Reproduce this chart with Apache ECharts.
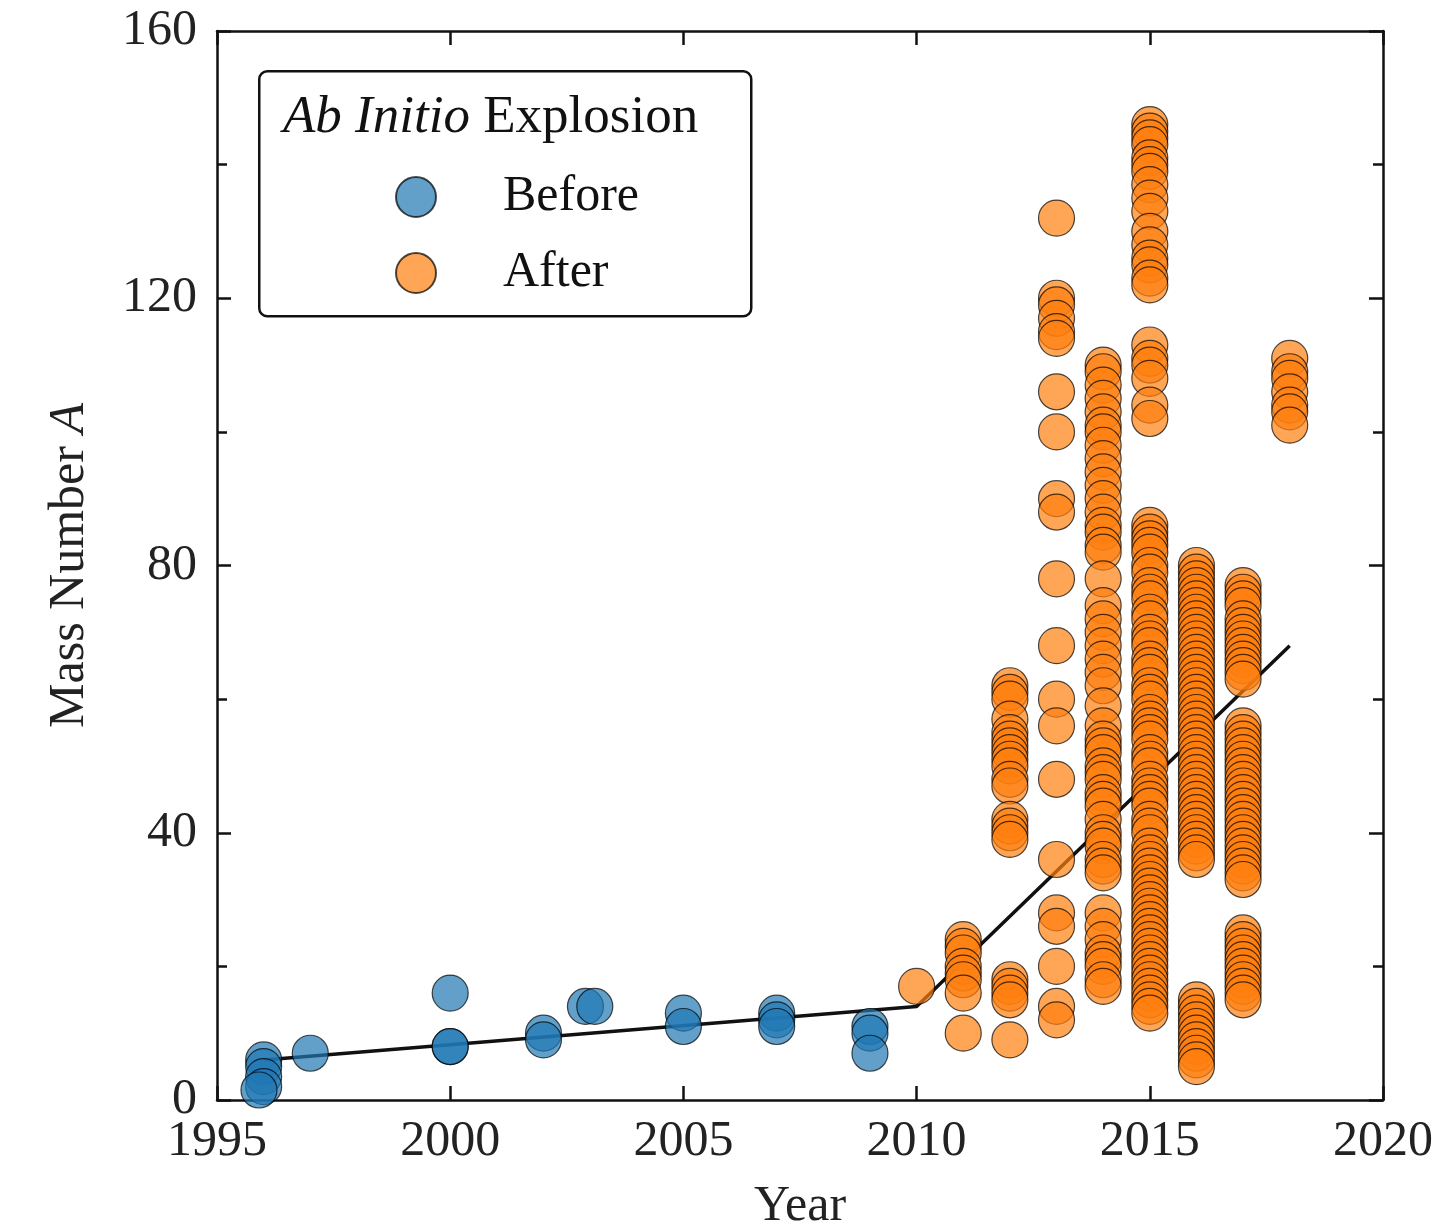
<!DOCTYPE html>
<html>
<head>
<meta charset="utf-8">
<script src="https://cdn.jsdelivr.net/npm/echarts@6/dist/echarts.min.js"></script>
<style>
html,body{margin:0;padding:0;background:#fff;}
#chart{width:1445px;height:1231px;}
</style>
</head>
<body>
<div id="chart"></div>
<script>
// ---- Data ----
const beforeYears = [1996, 1996, 1996, 1996, 1995.9, 1997, 2000, 2000, 2000, 2002, 2002, 2002.9, 2003.1, 2005, 2005, 2007, 2007, 2007, 2009, 2009, 2009];
const beforeMass  = [6, 5, 3.5, 2, 1.5, 7, 8, 8, 16, 10, 9, 14, 14, 13, 11, 13, 12, 11, 11, 10, 7];

const afterColumnYears = [2010, 2011, 2012, 2013, 2014, 2015, 2016, 2017, 2018];
const after2010 = [17];
const after2011 = [24, 23, 22, 20, 19, 18, 16, 10];
const after2012 = [62, 61, 60, 57, 55, 54, 53, 52, 51, 50, 48, 47, 42, 41, 40, 39, 18, 17, 16, 15, 9];
const after2013 = [132, 120, 119, 117, 115, 114, 106, 100, 90, 88, 78, 68, 60, 56, 48, 36, 28, 26, 20, 14, 12];
const after2014 = [110, 109, 107, 105, 103, 101, 100, 98, 96, 94, 92, 90, 88, 86, 85, 83, 82, 78, 74, 72, 70, 68, 66, 64, 62, 59, 56, 54, 53, 52, 50, 49, 48, 46, 45, 44, 42, 40, 39, 38, 36, 35, 34, 28, 26, 24, 22, 21, 20, 18, 17];
const after2015 = [146, 145, 144, 143, 141, 140, 139, 137, 135, 133, 130, 128, 126, 125, 123, 122, 113, 111, 110, 108, 104, 102,
                   86, 85, 84, 83, 82, 80, 79, 77, 76, 75, 73, 72, 70, 69, 68, 66, 65, 64, 62, 61, 60, 58, 57, 56, 55, 54, 52, 51, 50, 48, 47, 46, 45, 44, 42, 41, 40, 38, 37, 36, 35, 34, 33, 32, 31, 30, 29, 28, 27, 26, 25, 24, 23, 22, 21, 20, 19, 18, 17, 16, 15, 14, 13];
const after2016 = [80, 79, 78, 77, 76, 75, 74, 73, 72, 71, 70, 69, 68, 67, 66, 65, 64, 63, 62, 61, 60, 59, 58, 57, 56, 55, 54, 53, 52, 51, 50, 49, 48, 47, 46, 45, 44, 43, 42, 41, 40, 39, 38, 37, 36,
                   15, 14, 13, 12, 11, 10, 9, 8, 7, 6, 5];
const after2017 = [77, 76, 75, 74, 72, 71, 70, 69, 68, 67, 66, 65, 64, 63,
                   56, 55, 54, 53, 52, 51, 50, 49, 48, 47, 46, 45, 44, 43, 42, 41, 40, 39, 38, 37, 36, 35, 34, 33,
                   25, 24, 23, 22, 21, 20, 19, 18, 17, 16, 15];
const after2018 = [111, 109, 108, 106, 104, 103, 101];
const afterColumns = [after2010, after2011, after2012, after2013, after2014, after2015, after2016, after2017, after2018];

const trendYears = [1996, 2010, 2018];
const trendMass  = [6, 14, 68];

const xTicks = [1995, 2000, 2005, 2010, 2015, 2020];
const yTicks = [0, 40, 80, 120, 160];

// ---- Build series data ----
const beforeData = beforeYears.map((y, i) => [y, beforeMass[i]]);
const afterData = [];
afterColumns.forEach((col, ci) => col.forEach(m => afterData.push([afterColumnYears[ci], m])));
const trendData = trendYears.map((y, i) => [y, trendMass[i]]);

const FONT = '"Liberation Serif", "DejaVu Serif", serif';
const FS = 50;

const axisLineStyle = {color: '#111', width: 2.5};
const chart = echarts.init(document.getElementById('chart'), null, {renderer: 'canvas'});

const baseX = {
  type: 'value', min: xTicks[0], max: xTicks[xTicks.length - 1], interval: 5,
  splitLine: {show: false},
  axisLine: {show: true, lineStyle: axisLineStyle, onZero: false},
  axisTick: {show: true, inside: true, length: 14, lineStyle: {color: '#111', width: 2.5}}
};
const baseY = {
  type: 'value', min: yTicks[0], max: yTicks[yTicks.length - 1], interval: 40,
  splitLine: {show: false},
  axisLine: {show: true, lineStyle: axisLineStyle, onZero: false},
  axisTick: {show: true, inside: true, length: 14, lineStyle: {color: '#111', width: 2.5}},
  minorTick: {show: true, splitNumber: 2, length: 10, lineStyle: {color: '#111', width: 2.5}}
};

chart.setOption({
  animation: false,
  backgroundColor: '#fff',
  grid: {left: 217, right: 62, top: 31, bottom: 131, containLabel: false, outerBoundsMode: 'none'},
  title: {
    text: '{i|Ab Initio} {n|Explosion}',
    left: 278, top: 87,
    textStyle: {
      fontFamily: FONT, fontSize: 53, fontWeight: 'normal', color: '#111',
      rich: {
        i: {fontFamily: FONT, fontSize: 53, fontStyle: 'italic', color: '#111'},
        n: {fontFamily: FONT, fontSize: 53, color: '#111'}
      }
    }
  },
  legend: {
    data: ['Before', 'After'],
    orient: 'vertical',
    left: 390, top: 167,
    itemWidth: 40, itemHeight: 40, itemGap: 26,
    icon: 'circle',
    textStyle: {fontFamily: FONT, fontSize: FS, color: '#111', padding: [0, 0, 0, 62]}
  },
  graphic: [{
    type: 'rect',
    left: 258, top: 70,
    shape: {width: 492, height: 245, r: 8},
    style: {fill: 'rgba(255,255,255,0.8)', stroke: '#111', lineWidth: 2.5},
    z: -1, silent: true
  }],
  xAxis: [
    Object.assign({}, baseX, {
      position: 'bottom',
      name: 'Year', nameLocation: 'middle', nameGap: 82,
      nameTextStyle: {fontFamily: FONT, fontSize: FS, color: '#222'},
      axisLabel: {fontFamily: FONT, fontSize: FS, color: '#222', margin: 17, formatter: v => String(v)}
    }),
    Object.assign({}, baseX, {position: 'top', axisLabel: {show: false}})
  ],
  yAxis: [
    Object.assign({}, baseY, {
      position: 'left',
      name: '{n|Mass Number }{i|A}', nameLocation: 'middle', nameGap: 122,
      nameTextStyle: {
        fontFamily: FONT, fontSize: FS, color: '#222',
        rich: {
          n: {fontFamily: FONT, fontSize: FS, color: '#222'},
          i: {fontFamily: FONT, fontSize: FS, fontStyle: 'italic', color: '#222'}
        }
      },
      axisLabel: {fontFamily: FONT, fontSize: FS, color: '#222', margin: 20, formatter: v => String(v)}
    }),
    Object.assign({}, baseY, {position: 'right', axisLabel: {show: false}})
  ],
  series: [
    {
      name: 'Trend', type: 'line', data: trendData,
      xAxisIndex: 0, yAxisIndex: 0,
      symbol: 'none', lineStyle: {color: '#111', width: 3.5}, z: 1
    },
    {
      name: 'Before', type: 'scatter', data: beforeData,
      xAxisIndex: 0, yAxisIndex: 0,
      symbolSize: 36,
      itemStyle: {color: '#1f77b4', opacity: 0.7, borderColor: '#000', borderWidth: 1.2},
      z: 2
    },
    {
      name: 'After', type: 'scatter', data: afterData,
      xAxisIndex: 0, yAxisIndex: 0,
      symbolSize: 36,
      itemStyle: {color: '#ff7f0e', opacity: 0.7, borderColor: '#000', borderWidth: 1.2},
      z: 2
    }
  ]
});
</script>
</body>
</html>
